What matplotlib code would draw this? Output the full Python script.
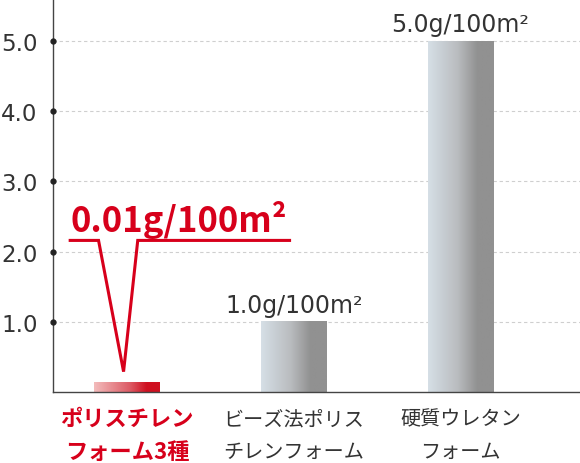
import numpy as np
import matplotlib
matplotlib.use("Agg")
import matplotlib.pyplot as plt
from matplotlib.colors import LinearSegmentedColormap
from matplotlib.transforms import blended_transform_factory

plt.rcParams["font.family"] = ["Noto Sans CJK JP", "DejaVu Sans"]
LATIN = ["DejaVu Sans"]

# data
line1 = ["ポリスチレン", "ビーズ法ポリス", "硬質ウレタン"]
line2 = ["フォーム3種", "チレンフォーム", "フォーム"]
bar_heights = [0.13, 1.0, 5.0]          # drawn heights (first bar exaggerated as in the source)
value_labels = ["0.01g/100m²", "1.0g/100m²", "5.0g/100m²"]
yticks = [1.0, 2.0, 3.0, 4.0, 5.0]
ytick_labels = ["1.0", "2.0", "3.0", "4.0", "5.0"]

RED = "#d7001b"
TXT = "#333333"

red_cmap = LinearSegmentedColormap.from_list(
    "red", [(0, "#f3bcbc"), (0.55, "#dc5a64"), (0.8, "#cf1020"), (1, "#cf1020")])
gray_cmap = LinearSegmentedColormap.from_list(
    "gray", [(0, "#d6dfe6"), (0.45, "#b9bcbf"), (0.75, "#919191"), (1, "#919191")])

fig = plt.figure(figsize=(5.8, 4.64), dpi=100)
ax = fig.add_axes([53 / 580, 71 / 464, 527 / 580, 393 / 464])
ax.set_xlim(-0.443, 2.716)
ax.set_ylim(0, 5.6)

width = 0.395
x = np.arange(len(bar_heights))
grad = np.linspace(0, 1, 256).reshape(1, -1)
for i, h in enumerate(bar_heights):
    cmap = red_cmap if i == 0 else gray_cmap
    ax.imshow(grad, cmap=cmap, aspect="auto", interpolation="bilinear",
              extent=(x[i] - width / 2, x[i] + width / 2, 0, h), zorder=2)

# grid + dots on the axis
for yv in yticks:
    ax.axhline(yv, color="#cfcfcf", lw=0.8, ls=(0, (3, 2.5)), zorder=1)
ax.plot(np.zeros(len(yticks)), yticks, "o", ms=3.5, color="#222222",
        transform=blended_transform_factory(ax.transAxes, ax.transData),
        clip_on=False, zorder=5)

ax.set_yticks(yticks)
ax.set_yticklabels(ytick_labels, fontsize=16.5, color=TXT, family=LATIN)
ax.tick_params(axis="y", length=0, pad=11)
ax.set_xticks([])
for s in ["top", "right"]:
    ax.spines[s].set_visible(False)
for s in ["left", "bottom"]:
    ax.spines[s].set_color("#444444")
    ax.spines[s].set_linewidth(1.0)

# value labels on gray bars
for i in range(1, len(bar_heights)):
    ax.annotate(value_labels[i], (x[i], bar_heights[i]), xytext=(0, 7),
                textcoords="offset points", ha="center", va="baseline",
                fontsize=17, color=TXT, family=LATIN)

# red callout for the first bar
cx = x[0]
tip_y = bar_heights[0] + 0.16
shelf_y = 2.16
ax.plot([cx - 0.34, cx - 0.17, cx - 0.02, cx + 0.065, cx + 0.975],
        [shelf_y, shelf_y, tip_y, shelf_y, shelf_y],
        color=RED, lw=2.2, solid_joinstyle="miter", zorder=4)
ax.text(cx - 0.34, 2.3, value_labels[0], color=RED, fontsize=25,
        fontweight="bold", ha="left", va="baseline")

# category labels
tr = blended_transform_factory(ax.transData, ax.transAxes)
for i in range(len(line1)):
    kw = dict(color=RED, fontsize=16, fontweight="bold") if i == 0 else \
        dict(color=TXT, fontsize=14.5)
    ax.text(x[i], -0.068, line1[i], transform=tr, ha="center", va="center", **kw)
    ax.text(x[i], -0.152, line2[i], transform=tr, ha="center", va="center", **kw)

fig.savefig("out.png", dpi=100)
